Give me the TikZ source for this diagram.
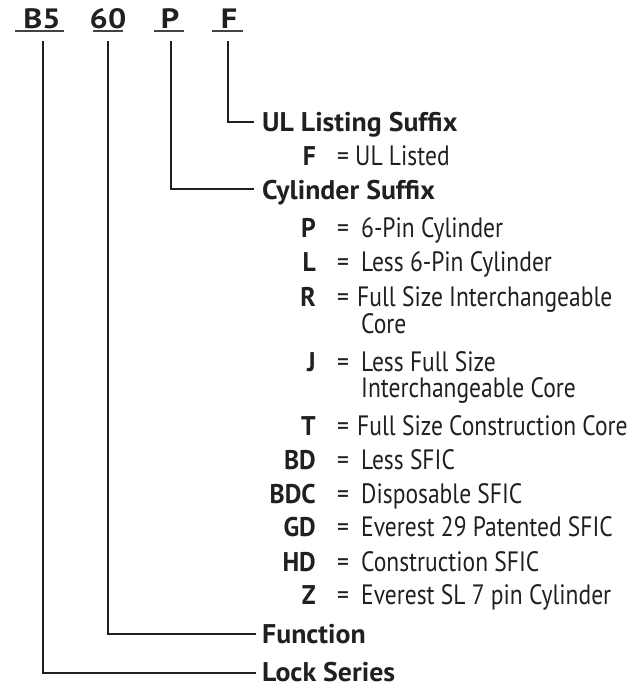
\documentclass[tikz,border=0pt]{standalone}
\usepackage{fontspec}
\setmainfont{PT Sans}[FakeStretch=0.84]
\newfontfamily\headfont{PT Sans Bold}[FakeStretch=1.03]
\newfontfamily\codefont{PT Sans Bold}[FakeStretch=0.95]
\newfontfamily\topfont{PT Sans Bold}[FakeStretch=1.15]
\definecolor{ink}{HTML}{231F20}
\begin{document}
\begin{tikzpicture}[x=1pt,y=-1pt,
  every node/.style={inner sep=0pt, text=ink, font=\fontsize{28}{30}\selectfont},
  top/.style={anchor=base, font=\fontsize{28}{30}\selectfont\topfont},
  head/.style={anchor=base west, font=\fontsize{27}{30}\selectfont\headfont},
  code/.style={anchor=base east, font=\fontsize{27}{30}\selectfont\codefont},
  eq/.style={anchor=base west},
  desc/.style={anchor=base west},
  conn/.style={draw=ink, line width=2.6pt},
  uline/.style={draw=ink!85, line width=2pt}]
\useasboundingbox (0,0) rectangle (636,687);
% top code
\node[top] (b5) at (42,29) {B5};
\node[top] (f60) at (108,29) {60};
\node[top] (tp) at (170,29) {P};
\node[top] (tf) at (229,29) {F};
\draw[uline] (15,31) -- (64,31);
\draw[uline] (93,31) -- (123,31);
\draw[uline] (154,31) -- (184,31);
\draw[uline] (212,31) -- (243,31);
\coordinate (b5s) at (43,41);
\coordinate (f60s) at (108,41);
\coordinate (tps) at (171,41);
\coordinate (tfs) at (228,41);
% headings
\node[head] (ul) at (262,132) {UL Listing Suffix};
\node[head] (cyl) at (262,199) {Cylinder Suffix};
\node[head] (fun) at (262,643) {Function};
\node[head] (lock) at (262,681) {Lock Series};
\coordinate (ule) at (254,122);
\coordinate (cyle) at (254,189);
\coordinate (fune) at (256,634);
\coordinate (locke) at (256,673);
\draw[conn] (tfs) |- (ule);
\draw[conn] (tps) |- (cyle);
\draw[conn] (f60s) |- (fune);
\draw[conn] (b5s) |- (locke);
% rows
\newcommand{\crow}[5]{%
  \node[code] (c#1) at (316,#2) {#3};
  \node[eq] (e#1) at (337,#2) {=};
  \node[desc] (d#1) at (#4,#2) {#5};}
\crow{f}{166}{F}{355}{UL Listed}
\crow{p}{237}{P}{361}{6-Pin Cylinder}
\crow{l}{271}{L}{361}{Less 6-Pin Cylinder}
\crow{r}{306}{R}{357}{Full Size Interchangeable}
\node[desc] (dr2) at (361,333) {Core};
\crow{j}{371}{J}{361}{Less Full Size}
\node[desc] (dj2) at (361,397) {Interchangeable Core};
\crow{t}{435}{T}{357}{Full Size Construction Core}
\crow{bd}{469}{BD}{361}{Less SFIC}
\crow{bdc}{503}{BDC}{361}{Disposable SFIC}
\crow{gd}{536}{GD}{361}{Everest 29 Patented SFIC}
\crow{hd}{571}{HD}{361}{Construction SFIC}
\crow{z}{604}{Z}{361}{Everest SL 7 pin Cylinder}
\end{tikzpicture}
\end{document}
